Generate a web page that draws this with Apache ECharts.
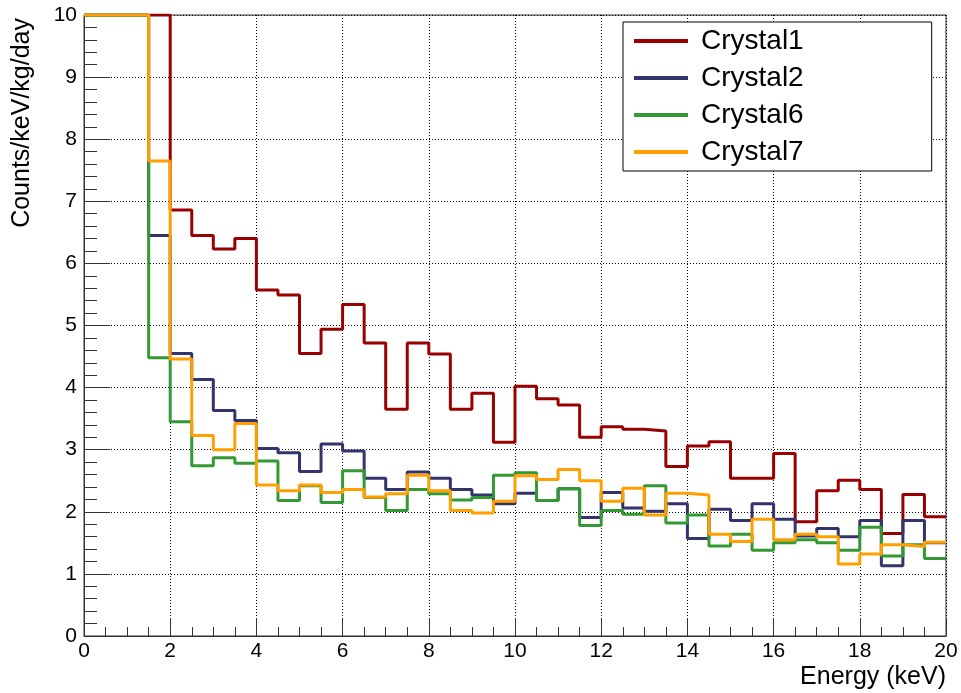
<!DOCTYPE html>
<html>
<head>
<meta charset="utf-8">
<title>Energy spectra</title>
<script src="https://cdn.jsdelivr.net/npm/echarts@6/dist/echarts.min.js"></script>
<style>
  html, body { margin: 0; padding: 0; background: #fff; }
  #chart { width: 961px; height: 693px; }
</style>
</head>
<body>
<div id="chart"></div>
<script>
// Lower edges of the 0.5 keV energy bins, plus the upper edge of the last bin
const binEdges = [0, 0.5, 1, 1.5, 2, 2.5, 3, 3.5, 4, 4.5, 5, 5.5, 6, 6.5, 7, 7.5, 8, 8.5, 9, 9.5,
  10, 10.5, 11, 11.5, 12, 12.5, 13, 13.5, 14, 14.5, 15, 15.5, 16, 16.5, 17, 17.5, 18, 18.5, 19, 19.5, 20];

// Rates per bin (counts/keV/kg/day); the lowest bins run off the top of the frame
const crystal1 = [10, 10, 10, 10, 6.86, 6.45, 6.23, 6.40, 5.57, 5.49,
  4.55, 4.94, 5.34, 4.72, 3.65, 4.72, 4.54, 3.65, 3.91, 3.12,
  4.02, 3.82, 3.72, 3.20, 3.37, 3.33, 3.30, 2.73, 3.06, 3.13,
  2.54, 2.54, 2.94, 1.84, 2.34, 2.51, 2.36, 1.65, 2.28, 1.92];
const crystal2 = [10, 10, 10, 6.45, 4.55, 4.13, 3.63, 3.47, 3.02, 2.95,
  2.65, 3.09, 2.98, 2.54, 2.36, 2.64, 2.54, 2.36, 2.27, 2.13,
  2.30, 2.18, 2.37, 1.91, 2.31, 2.06, 2.01, 2.13, 1.57, 2.04,
  1.86, 2.13, 1.88, 1.61, 1.73, 1.60, 1.86, 1.13, 1.86, 1.50];
const crystal6 = [10, 10, 10, 4.48, 3.45, 2.74, 2.87, 2.78, 2.82, 2.18,
  2.42, 2.15, 2.66, 2.23, 2.02, 2.36, 2.29, 2.19, 2.23, 2.59,
  2.63, 2.18, 2.37, 1.78, 2.02, 1.96, 2.42, 1.82, 1.95, 1.45,
  1.64, 1.38, 1.50, 1.55, 1.50, 1.38, 1.75, 1.29, 1.47, 1.25];
const crystal7 = [10, 10, 10, 7.65, 4.46, 3.23, 3.00, 3.42, 2.43, 2.34,
  2.43, 2.31, 2.36, 2.24, 2.29, 2.59, 2.34, 2.02, 1.98, 2.17,
  2.58, 2.52, 2.68, 2.50, 2.17, 2.38, 1.95, 2.30, 2.27, 1.64,
  1.52, 1.88, 1.55, 1.64, 1.60, 1.16, 1.32, 1.47, 1.44, 1.51];

const seriesNames = ['Crystal1', 'Crystal2', 'Crystal6', 'Crystal7'];
const seriesValues = [crystal1, crystal2, crystal6, crystal7];
const seriesColors = ['#990000', '#34346c', '#339933', '#ffa000'];

const FONT = '"Liberation Sans", Arial, Helvetica, sans-serif';

// Step outline: each bin value starts at its lower edge and the last one is
// carried to the upper edge of the range
function histPoints(values) {
  const pts = values.map((v, i) => [binEdges[i], v]);
  pts.push([binEdges[values.length], values[values.length - 1]]);
  return pts;
}

const chart = echarts.init(document.getElementById('chart'), null, { renderer: 'canvas' });

chart.setOption({
  animation: false,
  backgroundColor: '#ffffff',
  grid: {
    left: 84, right: 15, top: 15, bottom: 57,
    show: true, borderColor: '#333', borderWidth: 1, backgroundColor: 'transparent'
  },
  xAxis: {
    type: 'value', min: 0, max: 20, interval: 2,
    axisLine: { show: true, onZero: false, lineStyle: { color: '#333', width: 1 } },
    axisTick: { show: true, inside: true, length: 18, lineStyle: { color: '#333', width: 1 } },
    minorTick: { show: true, splitNumber: 4, length: 9, lineStyle: { color: '#333', width: 1 } },
    axisLabel: {
      show: true, margin: 5, color: '#000', fontSize: 21, fontFamily: FONT,
      showMinLabel: true, showMaxLabel: true, hideOverlap: false
    },
    splitLine: { show: true, lineStyle: { color: '#000', width: 1, type: [1, 2] } }
  },
  yAxis: {
    type: 'value', min: 0, max: 10, interval: 1,
    axisLine: { show: true, onZero: false, lineStyle: { color: '#333', width: 1 } },
    axisTick: { show: true, inside: true, length: 26, lineStyle: { color: '#333', width: 1 } },
    minorTick: { show: true, splitNumber: 5, length: 13, lineStyle: { color: '#333', width: 1 } },
    axisLabel: {
      show: true, margin: 7, color: '#000', fontSize: 21, fontFamily: FONT,
      showMinLabel: true, showMaxLabel: true, hideOverlap: false
    },
    splitLine: { show: true, lineStyle: { color: '#000', width: 1, type: [1, 2] } }
  },
  legend: {
    show: true,
    orient: 'vertical',
    left: 623, top: 22,
    padding: [5, 128, 5, 11],
    itemGap: 9,
    itemWidth: 54, itemHeight: 4,
    icon: 'rect',
    borderColor: '#000', borderWidth: 1, borderRadius: 0,
    backgroundColor: '#fff',
    data: seriesNames,
    textStyle: { color: '#000', fontSize: 28, lineHeight: 28, fontFamily: FONT, padding: [0, 0, 0, 8] }
  },
  graphic: [
    {
      type: 'text', x: 22, y: 18, rotation: Math.PI / 2, silent: true,
      style: {
        text: 'Counts/keV/kg/day', fill: '#000',
        font: '25px ' + FONT, textAlign: 'right', textVerticalAlign: 'middle'
      }
    },
    {
      type: 'text', x: 946, y: 677, silent: true,
      style: {
        text: 'Energy (keV)', fill: '#000',
        font: '25px ' + FONT, textAlign: 'right', textVerticalAlign: 'middle'
      }
    }
  ],
  series: seriesNames.map((name, k) => ({
    name: name,
    type: 'line',
    step: 'end',
    data: histPoints(seriesValues[k]),
    showSymbol: false,
    symbol: 'none',
    clip: true,
    color: seriesColors[k],
    lineStyle: { color: seriesColors[k], width: 3 },
    emphasis: { disabled: true }
  }))
});
</script>
</body>
</html>
